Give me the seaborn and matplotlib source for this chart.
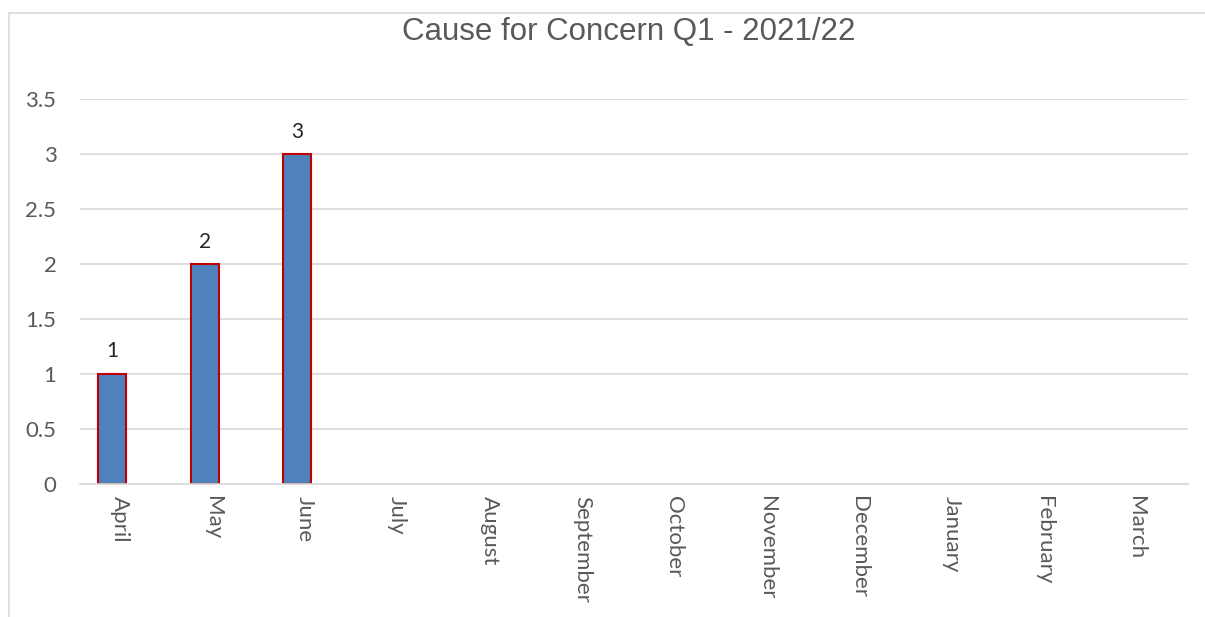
import numpy as np
import pandas as pd
import seaborn as sns
import matplotlib.pyplot as plt
import matplotlib.transforms as mtransforms
from matplotlib.patches import Rectangle

months = ["April", "May", "June", "July", "August", "September", "October",
          "November", "December", "January", "February", "March"]
concerns = [1, 2, 3, np.nan, np.nan, np.nan, np.nan, np.nan, np.nan, np.nan, np.nan, np.nan]
spare = [0] * 12
series_names = ["Cause for Concern", "spare"]
y_ticks = [0, 0.5, 1, 1.5, 2, 2.5, 3, 3.5]

df = pd.DataFrame({
    "month": months * 2,
    "value": concerns + spare,
    "series": [series_names[0]] * 12 + [series_names[1]] * 12,
})

sns.set_theme(style="white")
plt.rcParams['font.family'] = ['Lato', 'DejaVu Sans']

fig = plt.figure(figsize=(12.05, 6.17), dpi=100)
ax = fig.add_axes([0.0664, 0.2156, 0.9196, 0.6239])

sns.barplot(data=df, x="month", y="value", hue="series", hue_order=series_names,
            order=months, palette=["#4F81BD", "#FFFFFF"], width=0.6, dodge=True,
            saturation=1, edgecolor="#C00000", linewidth=1.5, legend=False, ax=ax)

# hide the empty second series
for c in ax.containers[1:]:
    for p in c.patches:
        if p is not None:
            p.set_visible(False)

# data labels
for p, v in zip(ax.containers[0].patches, concerns):
    if p is None or np.isnan(v):
        continue
    ax.annotate(f"{v:g}", (p.get_x() + p.get_width() / 2, p.get_height()),
                xytext=(0, 9), textcoords="offset points", ha="center", va="bottom",
                fontsize=15, color="#262626")

ax.set_ylim(0, 3.5)
ax.set_yticks(y_ticks)
ax.set_yticklabels([f"{t:g}" for t in y_ticks])
ax.yaxis.grid(True, color="#D9D9D9", linewidth=1.2)
ax.set_axisbelow(True)
for s in ["top", "right", "left"]:
    ax.spines[s].set_visible(False)
ax.spines["bottom"].set_color("#D9D9D9")
ax.spines["bottom"].set_linewidth(1.2)
ax.tick_params(axis="both", length=0, colors="#595959", labelsize=16)
ax.tick_params(axis="y", pad=17)
ax.tick_params(axis="x", pad=9)
shift = mtransforms.ScaledTranslation(-0.06, 0, fig.dpi_scale_trans)
for lab in ax.get_xticklabels():
    lab.set_rotation(270)
    lab.set_va("top")
    lab.set_ha("center")
    lab.set_transform(lab.get_transform() + shift)
ax.set_xlabel("")
ax.set_ylabel("")

fig.text(0.522, 0.948, "Cause for Concern Q1 - 2021/22", ha="center", va="center",
         fontsize=22.5, color="#595959", family=["Liberation Sans", "DejaVu Sans"])

fig.patches.append(Rectangle((0.0075, -0.01), 1.0, 0.989, transform=fig.transFigure,
                             fill=False, edgecolor="#D9D9D9", linewidth=1.2))

fig.savefig("out.png", dpi=100)
